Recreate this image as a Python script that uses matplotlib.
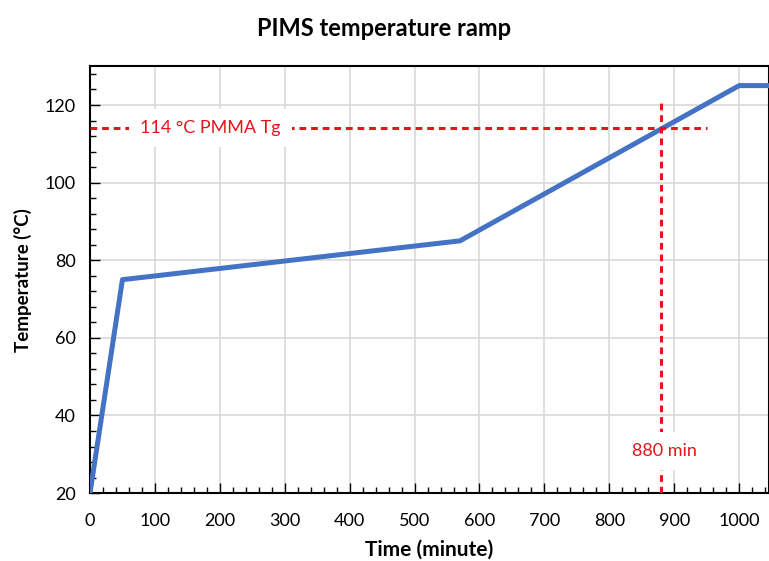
import matplotlib.pyplot as plt
from matplotlib.ticker import MultipleLocator

# ramp profile
time_min = [0, 50, 570, 1000, 1050]
temp_c = [20, 75, 85, 125, 125]

tg_temp = 114
tg_time = 880
tg_label = "114 °C PMMA Tg"
time_label = "880 min"

plt.rcParams['font.family'] = ['Lato', 'DejaVu Sans']

fig = plt.figure(figsize=(7.69, 5.61), dpi=100)
ax = fig.add_axes([0.117, 0.121, 0.883, 0.761])

ax.plot(time_min, temp_c, color='#4472C4', lw=3.6, solid_capstyle='butt', zorder=3)

red = '#E8141B'
ax.plot([0, 950], [tg_temp, tg_temp], color=red, lw=2.2, ls=(0, (2.2, 1.6)), zorder=4)
ax.plot([tg_time, tg_time], [20, 121], color=red, lw=2.2, ls=(0, (2.2, 1.6)), zorder=4)
ax.text(185, tg_temp, tg_label, color=red, fontsize=13, ha='center', va='center',
        bbox=dict(facecolor='white', edgecolor='none', pad=8), zorder=5)
ax.text(tg_time + 5, 30.8, time_label, color=red, fontsize=13, ha='center', va='center',
        bbox=dict(facecolor='white', edgecolor='none', pad=8), zorder=5)

ax.set_xlim(0, 1046)
ax.set_ylim(20, 130)
ax.xaxis.set_major_locator(MultipleLocator(100))
ax.xaxis.set_minor_locator(MultipleLocator(20))
ax.yaxis.set_major_locator(MultipleLocator(20))
ax.yaxis.set_minor_locator(MultipleLocator(4))
ax.tick_params(which='both', direction='in', color='black', labelsize=13, width=1)
ax.tick_params(which='major', length=7)
ax.tick_params(which='minor', length=4)
ax.tick_params(axis='x', which='major', pad=14)
ax.tick_params(axis='y', which='major', pad=10)
ax.tick_params(axis='x', top=False)
ax.tick_params(axis='y', right=False)
ax.grid(True, which='major', color='#D9D9D9', lw=1.2)
ax.set_axisbelow(True)
for s in ax.spines.values():
    s.set_color('black')
    s.set_linewidth(1.5)

ax.set_xlabel('Time (minute)', fontsize=15, fontweight='bold', labelpad=8)
ax.set_ylabel('Temperature (°C)', fontsize=13.5, fontweight='bold', labelpad=9)
fig.suptitle('PIMS temperature ramp', fontsize=17, fontweight='bold', y=0.97)

fig.savefig('out.png', dpi=100)
